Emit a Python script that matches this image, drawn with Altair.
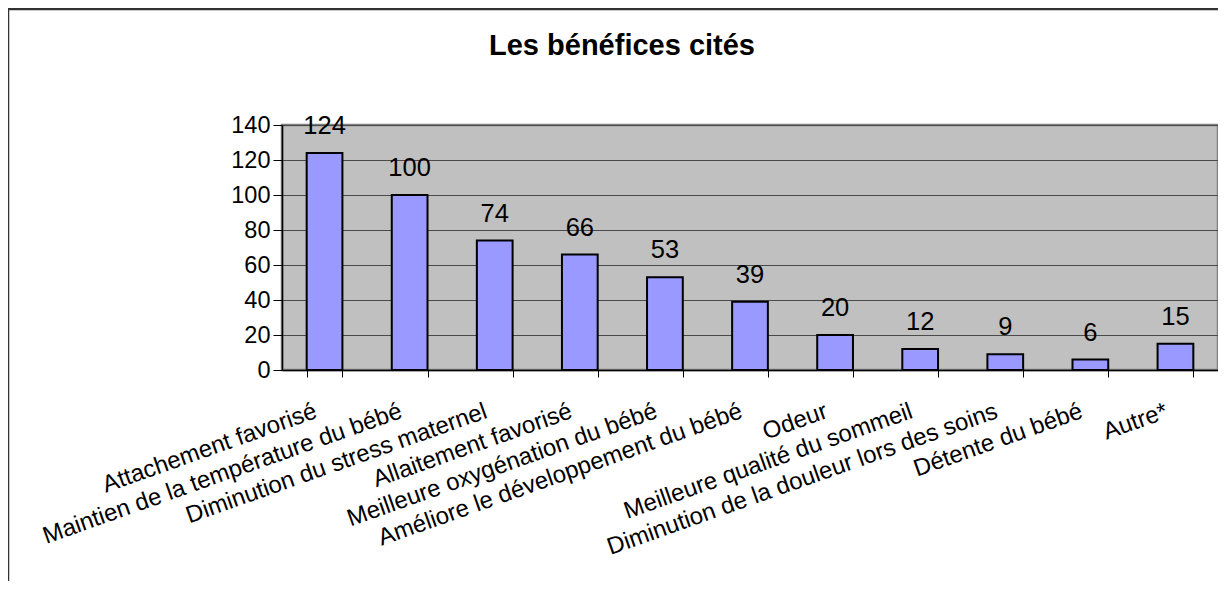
import altair as alt
import pandas as pd

categories = [
    "Attachement favorisé",
    "Maintien de la température du bébé",
    "Diminution du stress maternel",
    "Allaitement favorisé",
    "Meilleure oxygénation du bébé",
    "Améliore le développement du bébé",
    "Odeur",
    "Meilleure qualité du sommeil",
    "Diminution de la douleur lors des soins",
    "Détente du bébé",
    "Autre*",
]
values = [124, 100, 74, 66, 53, 39, 20, 12, 9, 6, 15]
title_text = "Les bénéfices cités"
y_ticks = [0, 20, 40, 60, 80, 100, 120, 140]

df = pd.DataFrame({"categorie": categories, "valeur": values})

FONT = "Liberation Sans"

x_enc = alt.X(
    "categorie:N",
    sort=categories,
    title=None,
    scale=alt.Scale(paddingInner=0.58, paddingOuter=0.29),
    axis=alt.Axis(
        labelAngle=-19.5,
        labelAlign="right",
        labelBaseline="top",
        labelFontSize=24,
        labelFont=FONT,
        labelColor="black",
        labelOffset=-13,
        labelPadding=22,
        labelLimit=0,
        labelOverlap=False,
        tickBand="extent",
        tickSize=7,
        tickColor="black",
        domainColor="black",
        domainWidth=1.5,
        grid=False,
    ),
)
y_enc = alt.Y(
    "valeur:Q",
    scale=alt.Scale(domain=[0, 140], nice=False),
    axis=alt.Axis(
        values=y_ticks,
        title=None,
        labelFontSize=23.5,
        labelFont=FONT,
        labelColor="black",
        labelPadding=3,
        labelOverlap=False,
        labelFlush=False,
        tickSize=9,
        tickColor="black",
        domainColor="black",
        domainWidth=1.5,
        grid=True,
        gridColor="#4a4a4a",
        gridWidth=1.2,
    ),
)

bars = alt.Chart(df).mark_bar(
    color="#9999FF", stroke="black", strokeWidth=2
).encode(x=x_enc, y=y_enc)

labels = alt.Chart(df).mark_text(
    baseline="alphabetic", dy=-19, fontSize=25.5, font=FONT, color="black"
).encode(x=x_enc, y=y_enc, text="valeur:Q")

title_df = pd.DataFrame({"t": [title_text]})
title = alt.Chart(title_df).mark_text(
    fontSize=29, fontWeight="bold", font=FONT, color="black",
    align="center", baseline="alphabetic"
).encode(x=alt.value(340), y=alt.value(-70), text="t:N")

border = alt.Chart(title_df).mark_rect(
    filled=False, stroke="#333333", strokeWidth=2.5
).encode(
    x=alt.value(-274), x2=alt.value(980), y=alt.value(-116), y2=alt.value(500)
)

chart = alt.layer(border, bars, labels, title).properties(
    width=936,
    height=245,
    autosize=alt.AutoSizeParams(type="none"),
    padding={"left": 274, "top": 117, "right": 0, "bottom": 211},
).configure(
    font=FONT
).configure_view(
    fill="#C0C0C0", stroke="#808080", strokeWidth=2.5
)

chart.save("out.html", embed_options={"renderer": "svg", "actions": False})
